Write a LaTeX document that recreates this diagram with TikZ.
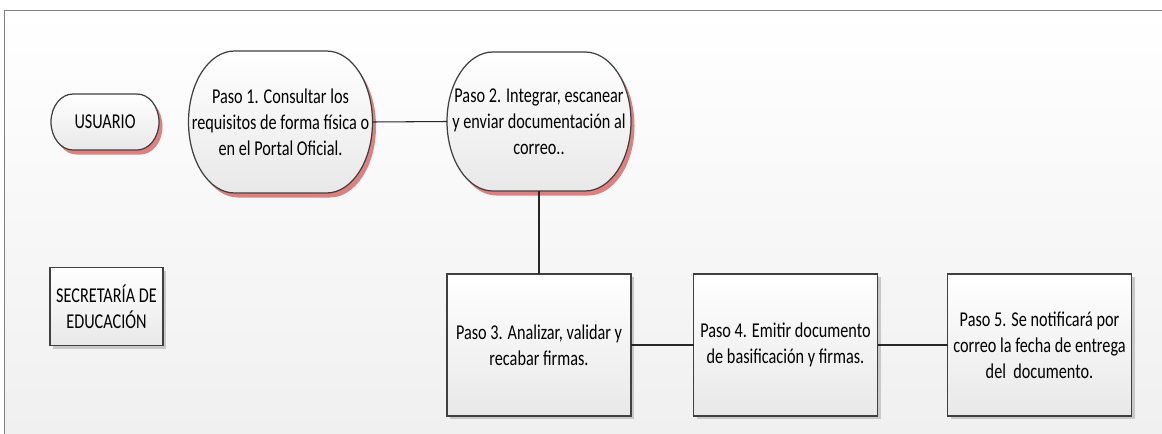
\documentclass[tikz,border=0pt]{standalone}
\usepackage{fontspec}
\setmainfont{Carlito}[FakeStretch=0.77]
\usetikzlibrary{backgrounds,shadows}
\definecolor{sombra0}{RGB}{222,128,128}
\definecolor{sombra1}{RGB}{200,200,200}
\definecolor{borde}{RGB}{64,64,64}
\tikzset{
    paso texto/.style={
        font=\fontsize{12}{14.8}\selectfont,
        align=center,
        inner sep=0pt,
        outer sep=0pt
    }
}

\begin{document}
\begin{tikzpicture}[line width=0.6pt]

    \useasboundingbox (0,0) rectangle (23.24,-8.66);

    \tikzstyle{redondo} = [
        paso texto,
        minimum width=3.68cm,
        minimum height=2.84cm
    ]
    \tikzstyle{caja} = [
        paso texto,
        draw=borde,
        line width=0.7pt,
        top color=white,
        bottom color=black!9,
        minimum width=3.68cm,
        minimum height=2.84cm,
        drop shadow={shadow xshift=0.06cm, shadow yshift=-0.06cm, fill=sombra1, opacity=1}
    ]

    % Nodos
    \node[redondo, minimum width=2.16cm, minimum height=1.12cm] (usr) at (2.10,-2.44) {USUARIO};
    \node[redondo] (p1) at (5.61,-2.44) {Paso 1. Consultar los\\requisitos de forma física o\\en el Portal Oficial.};
    \node[redondo, minimum height=2.78cm] (p2) at (10.78,-2.43) {Paso 2. Integrar, escanear\\y enviar documentación al\\correo..};
    \node[caja, minimum width=2.26cm, minimum height=1.56cm] (sec) at (2.13,-6.13) {SECRETARÍA DE\\EDUCACIÓN};
    \node[caja] (p3) at (10.78,-6.90) {Paso 3. Analizar, validar y\\recabar firmas.};
    \node[caja] (p4) at (15.71,-6.90) {Paso 4. Emitir documento\\de basificación y firmas.};
    \node[caja] (p5) at (20.79,-6.90) {Paso 5. Se notificará por\\correo la fecha de entrega\\del\ \ documento.};

    % Conectores
    \draw[black!85] (p1.east) -- (p2.west);
    \draw[black!85] (p2.south) -- (p3.north);
    \draw[black!85] (p3.east) -- (p4.west);
    \draw[black!85] (p4.east) -- (p5.west);

    % Fondo, marco y formas redondeadas
    \begin{scope}[on background layer]
        \shade[top color=white, bottom color=black!6] (0.094,-0.20) rectangle (23.4,-8.8);
        \draw[black!50] (0.094,-8.8) -- (0.094,-0.20) -- (23.4,-0.20);
        \foreach \n/\rx/\ry in {usr/0.44cm/0.56cm, p1/0.92cm/1.42cm, p2/0.92cm/1.39cm} {
            \fill[sombra0, transform canvas={shift={(0.07,-0.09)}}]
                ([xshift=\rx]\n.north west) -- ([xshift=-\rx]\n.north east)
                arc[start angle=90, end angle=-90, x radius=\rx, y radius=\ry]
                -- ([xshift=\rx]\n.south west)
                arc[start angle=270, end angle=90, x radius=\rx, y radius=\ry] -- cycle;
            \draw[borde, line width=0.7pt, top color=white, bottom color=black!9]
                ([xshift=\rx]\n.north west) -- ([xshift=-\rx]\n.north east)
                arc[start angle=90, end angle=-90, x radius=\rx, y radius=\ry]
                -- ([xshift=\rx]\n.south west)
                arc[start angle=270, end angle=90, x radius=\rx, y radius=\ry] -- cycle;
        }
    \end{scope}

\end{tikzpicture}
\end{document}
